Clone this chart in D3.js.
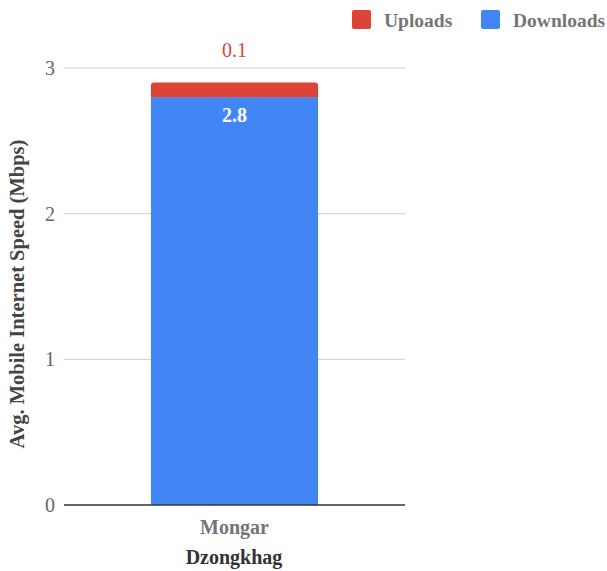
<!DOCTYPE html>
<html>
<head>
<meta charset="utf-8">
<script src="https://cdn.jsdelivr.net/npm/d3@7"></script>
<style>
  html, body { margin: 0; padding: 0; background: #fff; }
  svg { display: block; font-family: "Liberation Serif", "DejaVu Serif", serif; }
</style>
</head>
<body>
<svg id="chart" width="607" height="571"></svg>
<script>
// Average mobile internet speed by dzongkhag (Mbps)
const categories = ["Mongar"];
const downloads = [2.8];
const uploads = [0.1];
const seriesNames = ["Uploads", "Downloads"];
const seriesColors = ["#db4437", "#4285f4"];
const yTicks = [0, 1, 2, 3];

const svg = d3.select("#chart");
const margin = { left: 64, right: 202, top: 68, bottom: 66 };
const W = 607, H = 571;

const x = d3.scaleBand()
  .domain(categories)
  .range([margin.left, W - margin.right])
  .paddingInner(0.5).paddingOuter(0.26);
const y = d3.scaleLinear().domain([0, 3]).range([H - margin.bottom, margin.top]);

// Gridlines
svg.append("g").selectAll("line").data(yTicks.filter(d => d > 0)).join("line")
  .attr("x1", margin.left).attr("x2", W - margin.right)
  .attr("y1", d => y(d)).attr("y2", d => y(d))
  .attr("stroke", "#cccccc").attr("stroke-width", 1);

// Y tick labels
svg.append("g").selectAll("text").data(yTicks).join("text")
  .attr("x", 55).attr("y", d => y(d)).attr("dy", "0.35em")
  .attr("text-anchor", "end")
  .attr("font-size", 20).attr("fill", "#666")
  .text(d => d);

const rows = categories.map((c, i) => ({ cat: c, down: downloads[i], up: uploads[i] }));

// Downloads segment
svg.append("g").selectAll("rect").data(rows).join("rect")
  .attr("x", d => x(d.cat)).attr("width", x.bandwidth())
  .attr("y", d => y(d.down)).attr("height", d => y(0) - y(d.down))
  .attr("fill", seriesColors[1]);

// Uploads segment on top, with rounded upper corners
svg.append("g").selectAll("path").data(rows).join("path")
  .attr("fill", seriesColors[0])
  .attr("d", d => {
    const x0 = x(d.cat), x1 = x0 + x.bandwidth();
    const yb = y(d.down), yt = y(d.down + d.up), r = 3;
    return `M${x0},${yb}L${x0},${yt + r}Q${x0},${yt} ${x0 + r},${yt}L${x1 - r},${yt}Q${x1},${yt} ${x1},${yt + r}L${x1},${yb}Z`;
  });

// Value labels
svg.append("g").selectAll("text").data(rows).join("text")
  .attr("x", d => x(d.cat) + x.bandwidth() / 2)
  .attr("y", d => y(d.down) + 25)
  .attr("text-anchor", "middle").attr("font-size", 20).attr("font-weight", "bold")
  .attr("fill", "#ffffff")
  .text(d => d.down.toFixed(1));
svg.append("g").selectAll("text").data(rows).join("text")
  .attr("x", d => x(d.cat) + x.bandwidth() / 2)
  .attr("y", d => y(d.down + d.up) - 26)
  .attr("text-anchor", "middle").attr("font-size", 20)
  .attr("fill", seriesColors[0])
  .text(d => d.up.toFixed(1));

// Baseline
svg.append("line")
  .attr("x1", margin.left).attr("x2", W - margin.right)
  .attr("y1", y(0)).attr("y2", y(0))
  .attr("stroke", "#333").attr("stroke-width", 1.5);

// Category labels
svg.append("g").selectAll("text").data(categories).join("text")
  .attr("x", d => x(d) + x.bandwidth() / 2).attr("y", 534)
  .attr("text-anchor", "middle").attr("font-size", 20).attr("font-weight", "bold")
  .attr("fill", "#757575")
  .text(d => d);

// Axis titles
svg.append("text")
  .attr("x", 234).attr("y", 564)
  .attr("text-anchor", "middle").attr("font-size", 20).attr("font-weight", "bold")
  .attr("fill", "#333").text("Dzongkhag");
svg.append("text")
  .attr("transform", "translate(24,294) rotate(-90)")
  .attr("text-anchor", "middle").attr("font-size", 20.5).attr("font-weight", "bold")
  .attr("fill", "#444").text("Avg. Mobile Internet Speed (Mbps)");

// Legend
const legendX = [352, 481];
const lg = svg.append("g").selectAll("g").data(seriesNames).join("g")
  .attr("transform", (d, i) => `translate(${legendX[i]},10)`);
lg.append("rect").attr("width", 19).attr("height", 19).attr("rx", 2)
  .attr("fill", (d, i) => seriesColors[i]);
lg.append("text").attr("x", 32).attr("y", 10).attr("dy", "0.35em")
  .attr("font-size", 19.5).attr("font-weight", "bold").attr("fill", "#757575")
  .text(d => d);
</script>
</body>
</html>
